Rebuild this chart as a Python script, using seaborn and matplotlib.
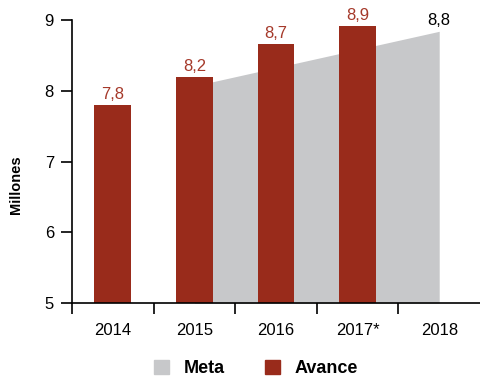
import pandas as pd
import matplotlib.pyplot as plt
import seaborn as sns
from matplotlib.patches import Patch

# Data
years = ["2014", "2015", "2016", "2017*", "2018"]
avance = [7.8, 8.2, 8.66, 8.92]          # bars 2014-2017*
meta_pos = [1, 4]                        # goal line runs 2015 -> 2018
meta = [8.07, 8.84]

red = "#992b1b"
red_txt = "#a5392a"
gray = "#c7c8ca"

sns.set_theme(style="ticks")
plt.rcParams["font.family"] = ["Liberation Sans", "DejaVu Sans"]
plt.rcParams["text.color"] = "black"

fig = plt.figure(figsize=(4.8, 3.77), dpi=100)
ax = fig.add_axes([0.15, 0.196, 0.85, 0.751])

# Meta area behind bars
ax.fill_between(meta_pos, meta, 5, color=gray, lw=0, zorder=0.5)

df = pd.DataFrame({"year": years[:4], "avance": avance})
sns.barplot(data=df, x="year", y="avance", color=red, width=0.45,
            saturation=1, linewidth=0, ax=ax, zorder=2)

fs = 12
for i, v in enumerate(avance):
    ax.text(i, v + 0.04, f"{v:.1f}".replace(".", ","), ha="center", va="bottom",
            color=red_txt, fontsize=fs)
ax.text(meta_pos[-1], meta[-1] + 0.05, f"{meta[-1]:.1f}".replace(".", ","),
        ha="center", va="bottom", color="black", fontsize=fs)

ax.set_xlim(-0.5, 4.5)
ax.set_ylim(5, 9)
ax.set_yticks([5, 6, 7, 8, 9])
ax.tick_params(axis="y", labelsize=fs, length=8, width=1.2, color="black",
               labelcolor="black", pad=5)

# ticks between categories, labels centered
ax.set_xticks([-0.5, 0.5, 1.5, 2.5, 3.5])
ax.set_xticklabels([])
ax.set_xticks(range(len(years)), minor=True)
ax.set_xticklabels(years, minor=True)
ax.tick_params(axis="x", which="major", length=8, width=1.2, color="black")
ax.tick_params(axis="x", which="minor", length=0, labelsize=fs, pad=14,
               labelcolor="black")

ax.set_xlabel("")
ax.set_ylabel("")
for s in ["top", "right"]:
    ax.spines[s].set_visible(False)
for s in ["left", "bottom"]:
    ax.spines[s].set_color("black")
    ax.spines[s].set_linewidth(1.2)

fig.text(0.033, 0.51, "Millones", rotation=90, ha="center", va="center",
         fontsize=10.5, fontweight="bold")

handles = [Patch(color=gray, label="Meta"), Patch(color=red, label="Avance")]
fig.legend(handles=handles, loc="center", bbox_to_anchor=(0.533, 0.022), ncol=2,
           frameon=False, prop={"weight": "bold", "size": 13},
           handlelength=0.85, handleheight=0.85, handletextpad=0.8,
           columnspacing=2.2)

fig.savefig("out.png", dpi=100)
